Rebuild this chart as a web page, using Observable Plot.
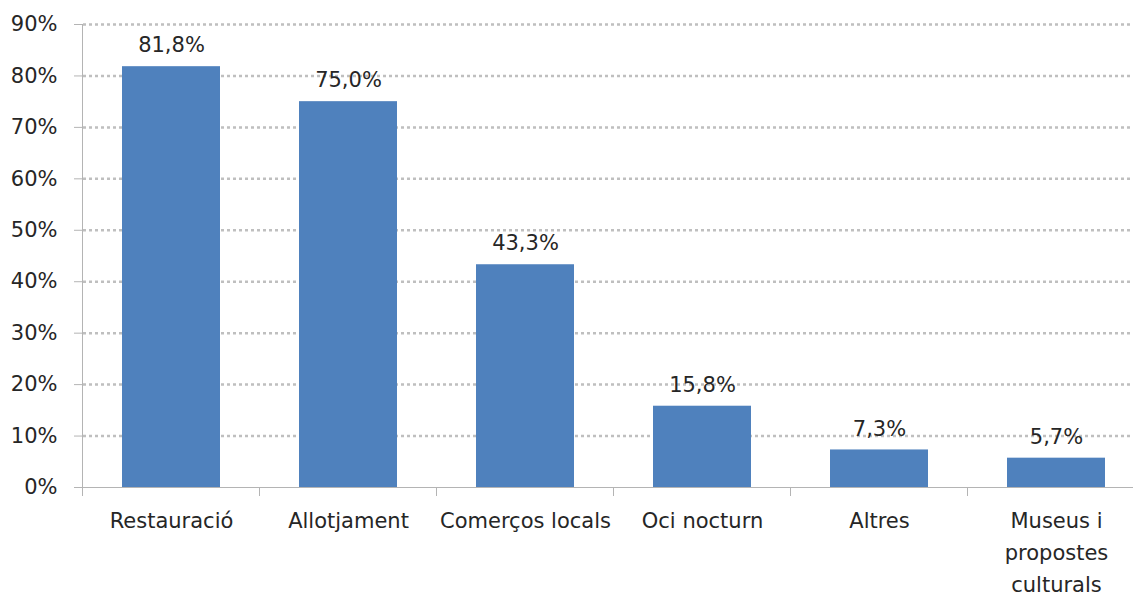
<!DOCTYPE html>
<html>
<head>
<meta charset="utf-8">
<script src="https://cdn.jsdelivr.net/npm/d3@7"></script>
<script src="https://cdn.jsdelivr.net/npm/@observablehq/plot@0.6"></script>
<style>
  html, body { margin: 0; padding: 0; background: #fff; overflow: hidden; }
  #chart svg { overflow: hidden; }
</style>
</head>
<body>
<div id="chart"></div>
<script>
const categories = ["Restauració", "Allotjament", "Comerços locals", "Oci nocturn", "Altres", "Museus i\npropostes\nculturals"];
const values = [81.8, 75.0, 43.3, 15.8, 7.3, 5.7];
const yTicks = [0, 10, 20, 30, 40, 50, 60, 70, 80, 90];

const data = categories.map((c, i) => ({cat: c, value: values[i]}));
const fmt = v => v.toFixed(1).replace(".", ",") + "%";
const FONT = "DejaVu Sans, sans-serif";
const axisColor = "#b4b4b4";
const textColor = "#262626";

// category separator ticks, placed from the band scale
function categoryTicks(index, scales, values, dims) {
  const x = scales.x;
  const step = x.step();
  const bw = x.bandwidth();
  const dom = x.domain();
  const bounds = dom.map(d => x(d) - (step - bw) / 2);
  bounds.push(x(dom[dom.length - 1]) + bw + (step - bw) / 2);
  const y0 = scales.y(0);
  const g = d3.create("svg:g");
  g.selectAll("line").data(bounds).join("line")
    .attr("x1", d => d).attr("x2", d => d)
    .attr("y1", y0).attr("y2", y0 + 9)
    .attr("stroke", axisColor).attr("stroke-width", 1)
    .attr("shape-rendering", "crispEdges");
  // vertical axis line
  g.append("line")
    .attr("x1", bounds[0]).attr("x2", bounds[0])
    .attr("y1", scales.y(90)).attr("y2", y0)
    .attr("stroke", axisColor).attr("stroke-width", 1)
    .attr("shape-rendering", "crispEdges");
  return g.node();
}

const chart = Plot.plot({
  width: 1133,
  height: 597,
  marginTop: 24,
  marginBottom: 110,
  marginLeft: 83,
  marginRight: -12,
  style: {fontFamily: FONT, fontSize: "21px", color: textColor, background: "#fff"},
  x: {domain: categories, paddingInner: 0.446, paddingOuter: 0.223, label: null},
  y: {domain: [0, 90], label: null},
  marks: [
    Plot.ruleY(yTicks.filter(d => d > 0), {stroke: "#bfbfbf", strokeWidth: 2.5, strokeDasharray: "3,3"}),
    Plot.barY(data, {x: "cat", y: "value", fill: "#4f81bd"}),
    Plot.ruleY([0], {stroke: axisColor, strokeWidth: 1, shapeRendering: "crispEdges"}),
    categoryTicks,
    Plot.axisY({
      ticks: yTicks, tickSize: 9, tickPadding: 17,
      tickFormat: d => d + "%",
      stroke: axisColor, fill: textColor, fontSize: 21, label: null
    }),
    Plot.axisX({
      tickSize: 0, tickPadding: 18, lineHeight: 1.52,
      fill: textColor, fontSize: 21, label: null
    }),
    Plot.text(data, {
      x: "cat", y: "value", text: d => fmt(d.value),
      dy: -21, fill: textColor, fontSize: 21
    })
  ]
});
document.getElementById("chart").appendChild(chart);
</script>
</body>
</html>
